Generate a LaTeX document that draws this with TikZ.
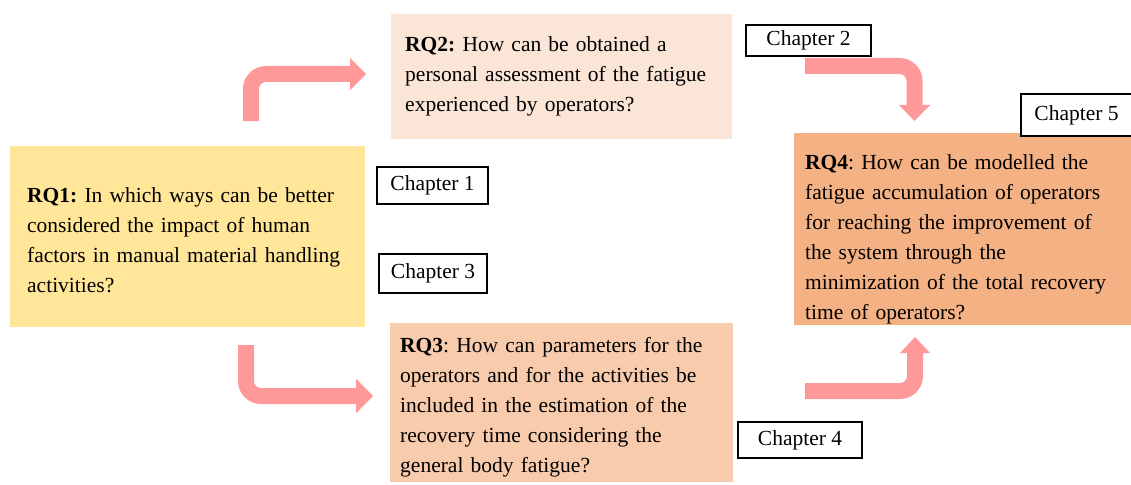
\documentclass[tikz,border=0pt]{standalone}
\usepackage{fontspec}
\setmainfont{Liberation Serif}
\frenchspacing
\definecolor{rqone}{HTML}{FFE699}
\definecolor{rqtwo}{HTML}{FBE5D6}
\definecolor{rqthree}{HTML}{F8CBAD}
\definecolor{rqfour}{HTML}{F4B183}
\definecolor{flow}{HTML}{FF9999}
\newcommand{\firstline}[1]{\rule{0pt}{#1}}
\tikzset{
  rqbox/.style={anchor=north west, align=left, inner ysep=0pt,
    font=\fontsize{21.5}{30}\selectfont},
  chapbox/.style={draw=black, line width=2pt, fill=white, anchor=north west,
    inner sep=0pt, font=\fontsize{21.5}{24}\selectfont},
  flowbody/.style={draw=flow, line width=16pt, rounded corners=15pt},
  flowhead/.style={fill=flow, draw=none}
}
\begin{document}
\begin{tikzpicture}[x=1pt,y=-1pt]
\useasboundingbox (0,0) rectangle (1131,484);

% research question boxes
\node[rqbox, fill=rqone, inner xsep=17pt, text width=321pt, minimum height=181pt] (rq1) at (10,146)
  {\firstline{21pt}\textbf{RQ1:} In which ways can be better\\considered the impact of human\\factors in manual material handling\\activities?};
\node[rqbox, fill=rqtwo, inner xsep=14pt, text width=313pt, minimum height=125pt] (rq2) at (391,14)
  {\textbf{RQ2:} How can be obtained a\\personal assessment of the fatigue\\experienced by operators?};
\node[rqbox, fill=rqthree, inner xsep=10pt, text width=323pt, minimum height=159pt] (rq3) at (390,323)
  {\firstline{25pt}\textbf{RQ3}: How can parameters for the\\operators and for the activities be\\included in the estimation of the\\recovery time considering the\\general body fatigue?};
\node[rqbox, fill=rqfour, inner xsep=11pt, text width=315pt, minimum height=192pt] (rq4) at (794,133)
  {\firstline{36pt}\textbf{RQ4}: How can be modelled the\\fatigue accumulation of operators\\for reaching the improvement of\\the system through the\\minimization of the total recovery\\time of operators?};

% chapter labels
\node[chapbox, minimum width=111pt, minimum height=37pt] (ch1) at (376,166) {Chapter 1};
\node[chapbox, minimum width=108pt, minimum height=39pt] (ch3) at (378,253) {Chapter 3};
\node[chapbox, minimum width=125pt, minimum height=31pt] (ch2) at (745,24) {Chapter 2};
\node[chapbox, minimum width=111pt, minimum height=42pt] (ch5) at (1020,93) {Chapter 5};
\node[chapbox, minimum width=124pt, minimum height=36pt] (ch4) at (737,421) {Chapter 4};

% bent flow arrows
\coordinate (a1s) at (251,121); \coordinate (a1e) at (351,74);
\draw[flowbody] (a1s) |- (a1e);
\fill[flowhead] (350,58) -- (366,74) -- (350,90) -- cycle;

\coordinate (a2s) at (246,345); \coordinate (a2e) at (357,396);
\draw[flowbody] (a2s) |- (a2e);
\fill[flowhead] (356,379) -- (373,396) -- (356,413) -- cycle;

\coordinate (a3s) at (805,66); \coordinate (a3e) at (914.5,106);
\draw[flowbody] (a3s) -| (a3e);
\fill[flowhead] (899,105) -- (930,105) -- (914.5,121) -- cycle;

\coordinate (a4s) at (805,391); \coordinate (a4e) at (915,352);
\draw[flowbody] (a4s) -| (a4e);
\fill[flowhead] (900,353) -- (930,353) -- (915,337) -- cycle;
\end{tikzpicture}
\end{document}
